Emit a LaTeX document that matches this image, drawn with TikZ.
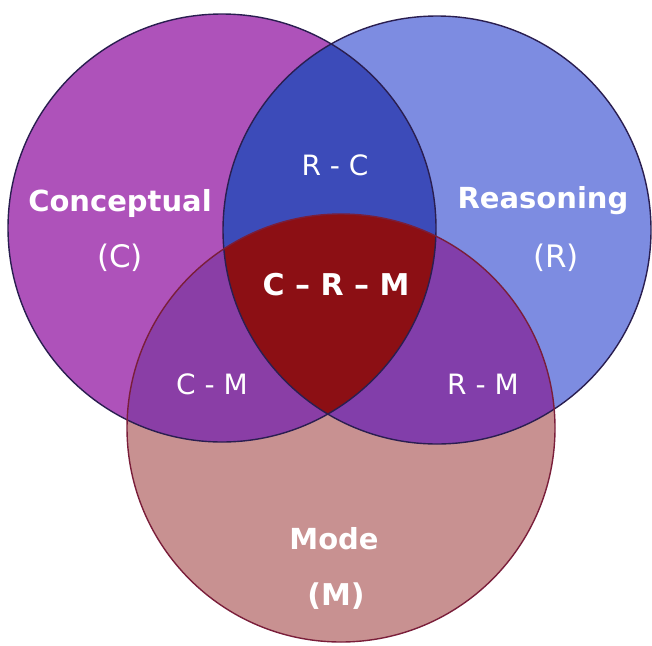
\documentclass[tikz,border=0pt]{standalone}
\usepackage{fontspec}
\setmainfont{DejaVu Sans}
\definecolor{concol}{HTML}{AE52BA}
\definecolor{reacol}{HTML}{7D8CE1}
\definecolor{modcol}{HTML}{C89191}
\definecolor{rccol}{HTML}{3C4BB9}
\definecolor{cmcol}{HTML}{8A3EA6}
\definecolor{rmcol}{HTML}{823EAA}
\definecolor{crmcol}{HTML}{8C0F14}
\definecolor{edgecol}{HTML}{2A1E50}
\definecolor{modedge}{HTML}{7A1E3A}
\tikzset{
  setname/.style={text=white, font=\bfseries\fontsize{29}{31}\selectfont, inner sep=0pt},
  setletter/.style={text=white, font=\fontsize{31}{33}\selectfont, inner sep=0pt},
  overlap/.style={text=white, font=\fontsize{28}{30}\selectfont, inner sep=0pt}
}
\begin{document}
\begin{tikzpicture}[x=1pt, y=-1pt, line cap=round, line join=round]
    \useasboundingbox (0,0) rectangle (652,645);
    \coordinate (C) at (222,228);
    \coordinate (R) at (437,230);
    \coordinate (M) at (341,428);
    \def\rad{214pt}
    % single sets
    \fill[concol] (C) circle[radius=\rad];
    \fill[reacol] (R) circle[radius=\rad];
    \fill[modcol] (M) circle[radius=\rad];
    % pairwise overlaps
    \begin{scope}
      \clip (C) circle[radius=\rad];
      \fill[rccol] (R) circle[radius=\rad];
      \fill[cmcol] (M) circle[radius=\rad];
    \end{scope}
    \begin{scope}
      \clip (R) circle[radius=\rad];
      \fill[rmcol] (M) circle[radius=\rad];
    \end{scope}
    % all three
    \begin{scope}
      \clip (C) circle[radius=\rad];
      \clip (R) circle[radius=\rad];
      \fill[crmcol] (M) circle[radius=\rad];
    \end{scope}
    \draw[edgecol, line width=1.4pt] (C) circle[radius=\rad] (R) circle[radius=\rad];
    \draw[modedge, line width=1.4pt] (M) circle[radius=\rad];
    % labels
    \node[setname] (conceptual) at (120,203) {Conceptual};
    \node[setletter] (cletter) at (120,258) {(C)};
    \node[setname] (reasoning) at (543,201) {Reasoning};
    \node[setletter] (rletter) at (556,258) {(R)};
    \node[setname] (mode) at (334,539) {Mode};
    \node[setletter, font=\bfseries\fontsize{30}{32}\selectfont] (mletter) at (336,596) {(M)};
    \node[overlap] (rc) at (335,165) {R - C};
    \node[overlap] (cm) at (212,384) {C - M};
    \node[overlap] (rm) at (483,384) {R - M};
    \node[setname, font=\bfseries\fontsize{30}{32}\selectfont] (crm) at (336,285) {C – R – M};
\end{tikzpicture}
\end{document}
